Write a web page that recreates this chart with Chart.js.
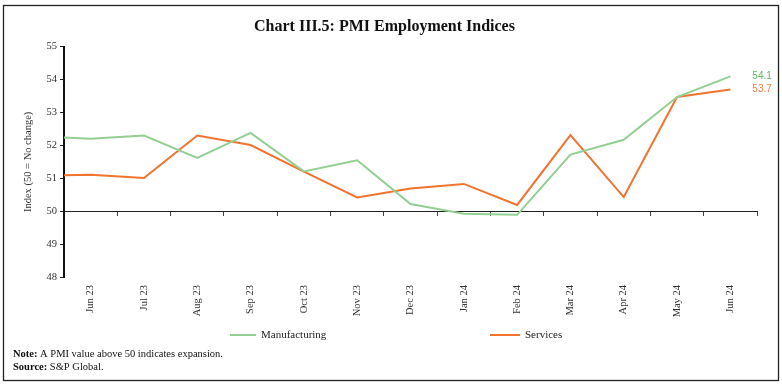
<!DOCTYPE html>
<html><head><meta charset="utf-8">
<script src="https://cdn.jsdelivr.net/npm/chart.js@4.4.1/dist/chart.umd.min.js"></script>
<style>html,body{margin:0;padding:0;background:#fff}#wrap{width:782px;height:386px}</style>
</head><body><div id="wrap"><canvas id="c" width="782" height="386"></canvas></div>
<script>
// First entry (May 23) lies just left of the plotted range; only its link to Jun 23 shows.
const months = ['May 23','Jun 23','Jul 23','Aug 23','Sep 23','Oct 23','Nov 23','Dec 23','Jan 24','Feb 24','Mar 24','Apr 24','May 24','Jun 24'];
const manufacturing = [52.28, 52.20, 52.30, 51.62, 52.38, 51.21, 51.55, 50.22, 49.92, 49.89, 51.72, 52.17, 53.47, 54.1];
const services      = [51.07, 51.11, 51.01, 52.30, 52.01, 51.20, 50.42, 50.69, 50.83, 50.19, 52.31, 50.43, 53.47, 53.7];
const yTicks = [48, 49, 50, 51, 52, 53, 54, 55];
const xTickIdx = [0,1,2,3,4,5,6,7,8,9,10,11,12];

const GREEN = '#93cf93', ORANGE = '#f07330';
const SERIF = '"Liberation Serif", "DejaVu Serif", serif';
const toPts = arr => arr.map((v, i) => ({x: i - 1, y: v}));

const framePlugin = {
  id: 'frame',
  beforeDraw(chart) {
    const ctx = chart.ctx;
    ctx.save();
    ctx.fillStyle = '#fff';
    ctx.fillRect(0, 0, chart.width, chart.height);
    ctx.strokeStyle = '#222';
    ctx.lineWidth = 1.3;
    ctx.strokeRect(3.5, 5.5, 775, 375);
    ctx.restore();
  },
  afterDraw(chart) {
    const ctx = chart.ctx;
    ctx.save();
    // end labels
    ctx.font = '10px "Liberation Sans", sans-serif';
    ctx.textBaseline = 'middle';
    ctx.textAlign = 'left';
    const colors = ['#5cb85c', '#f27d45'];
    chart.data.datasets.forEach((ds, i) => {
      const meta = chart.getDatasetMeta(i);
      const p = meta.data[meta.data.length - 1];
      const v = ds.data[ds.data.length - 1].y;
      ctx.fillStyle = colors[i];
      ctx.fillText(v.toFixed(1), p.x + 22, p.y);
    });
    // legend
    const items = [{x: 230, w: 26}, {x: 490, w: 30}];
    const ly = 335;
    ctx.font = '11px ' + SERIF;
    chart.data.datasets.forEach((ds, i) => {
      ctx.strokeStyle = ds.borderColor;
      ctx.lineWidth = 2;
      ctx.beginPath();
      ctx.moveTo(items[i].x, ly);
      ctx.lineTo(items[i].x + items[i].w, ly);
      ctx.stroke();
      ctx.fillStyle = '#222';
      ctx.fillText(ds.label, items[i].x + items[i].w + 5, ly);
    });
    // notes
    ctx.textBaseline = 'alphabetic';
    const notes = [['Note:', ' A PMI value above 50 indicates expansion.', 357], ['Source:', ' S&P Global.', 370]];
    notes.forEach(n => {
      ctx.font = 'bold 10.5px ' + SERIF;
      ctx.fillStyle = '#111';
      ctx.fillText(n[0], 13, n[2]);
      const w = ctx.measureText(n[0]).width;
      ctx.font = '10.5px ' + SERIF;
      ctx.fillText(n[1], 13 + w, n[2]);
    });
    ctx.restore();
  }
};

new Chart(document.getElementById('c'), {
  type: 'line',
  data: {
    datasets: [
      {label: 'Manufacturing', data: toPts(manufacturing), borderColor: GREEN, backgroundColor: GREEN, borderWidth: 2, pointRadius: 0, tension: 0, xAxisID: 'x', yAxisID: 'y'},
      {label: 'Services', data: toPts(services), borderColor: ORANGE, backgroundColor: ORANGE, borderWidth: 2, pointRadius: 0, tension: 0, xAxisID: 'x', yAxisID: 'y'}
    ]
  },
  options: {
    responsive: false,
    animation: false,
    devicePixelRatio: 1,
    layout: {padding: {left: 12, right: 25, top: 0, bottom: 59}},
    plugins: {
      legend: {display: false},
      tooltip: {enabled: false},
      title: {
        display: true,
        text: 'Chart III.5: PMI Employment Indices',
        color: '#111',
        font: {family: SERIF, size: 16, weight: 'bold'},
        padding: {top: 17, bottom: 10.5}
      }
    },
    scales: {
      x: {
        type: 'linear',
        position: {y: 50},
        min: -0.5, max: 12.5,
        afterBuildTicks: s => { s.ticks = xTickIdx.map(v => ({value: v})); },
        ticks: {display: false},
        grid: {offset: true, drawOnChartArea: false, drawTicks: true, tickLength: 4, color: '#444'},
        border: {display: true, color: '#222', width: 1}
      },
      x2: {
        type: 'linear',
        position: 'bottom',
        min: -0.5, max: 12.5,
        afterBuildTicks: s => { s.ticks = xTickIdx.map(v => ({value: v})); },
        afterFit: s => { s.height = 50; },
        ticks: {
          autoSkip: false, minRotation: 90, maxRotation: 90, padding: 8,
          color: '#333', font: {family: SERIF, size: 10.5},
          callback: v => months[v + 1]
        },
        grid: {display: false, drawTicks: false},
        border: {display: false}
      },
      y: {
        type: 'linear',
        position: 'left',
        min: 48, max: 55,
        afterBuildTicks: s => { s.ticks = yTicks.map(v => ({value: v})); },
        afterFit: s => { s.width = 52; },
        ticks: {color: '#333', font: {family: SERIF, size: 10.5}, padding: 3},
        grid: {drawOnChartArea: false, drawTicks: true, tickLength: 4, color: '#222'},
        border: {display: true, color: '#111', width: 2},
        title: {display: true, text: 'Index (50 = No change)', color: '#333', font: {family: SERIF, size: 10.5}, padding: {top: 10, bottom: 0}}
      }
    }
  },
  plugins: [framePlugin]
});
</script>
</body></html>
